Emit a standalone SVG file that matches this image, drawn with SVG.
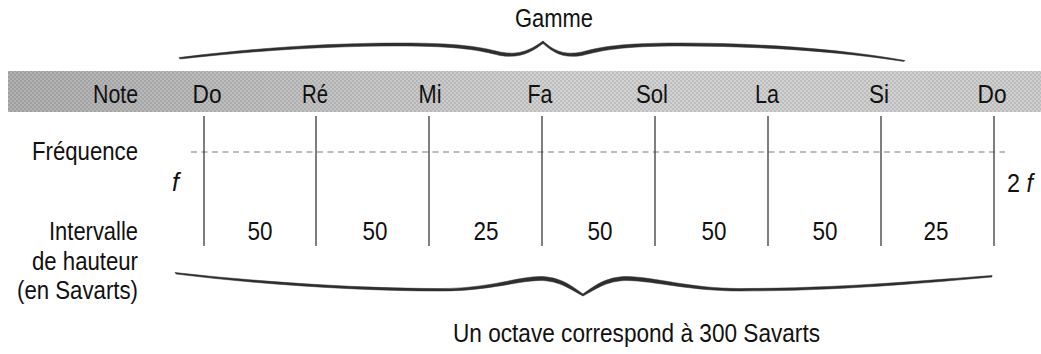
<svg xmlns="http://www.w3.org/2000/svg" width="1041" height="354" viewBox="0 0 1041 354">
  <defs>
    <linearGradient id="bandGrad" x1="0" y1="0" x2="1" y2="0">
      <stop offset="0" stop-color="#b0b0b0"/>
      <stop offset="0.3" stop-color="#c4c4c4"/>
      <stop offset="0.55" stop-color="#d4d4d4"/>
      <stop offset="1" stop-color="#d0d0d0"/>
    </linearGradient>
    <pattern id="stipple" width="4" height="4" patternUnits="userSpaceOnUse">
      <rect x="0" y="0" width="2" height="2" fill="#000" opacity="0.10"/>
      <rect x="2" y="2" width="2" height="2" fill="#000" opacity="0.10"/>
    </pattern>
    <style>
      text { font-family: "Liberation Sans", Arial, sans-serif; font-size: 25px; fill: #111111; }
      .note { text-anchor: middle; }
      .label { text-anchor: end; }
      .num { text-anchor: middle; }
      .it { font-style: italic; }
      .vline { stroke: #3a3a3a; stroke-width: 1.3; fill: none; }
      .dash { stroke: #7a7a7a; stroke-width: 1.2; stroke-dasharray: 6 4.5; fill: none; }
      .brace { fill: #2e2e2e; stroke: #2e2e2e; stroke-width: 0.5; }
    </style>
  </defs>
  <rect width="1041" height="354" fill="#ffffff"/>

  <!-- Title and top brace -->
  <g id="gamme">
    <text x="554" y="27" class="note" textLength="78" lengthAdjust="spacingAndGlyphs">Gamme</text>
    <path class="brace" d="M179,57.5 C260,47.5 330,43 400,43 C460,43 480,47 500,52 C520,56 532,49 543,41 L543,43.5 C533,51 521,59 500,55.5 C480,50.5 460,46 400,46 C330,46 262,50 180,59 Z"/>
    <path class="brace" d="M543,41 C552,49 562,56 582,52 C600,47 620,43 680,43 C760,43 840,49 905,60.5 L904,61.5 C840,51.5 760,46 680,46 C620,46 602,50.5 582,55.5 C561,59 552,51 543,43.5 Z"/>
  </g>

  <!-- Note band -->
  <g id="band">
    <rect x="8" y="71" width="1033" height="41" fill="url(#bandGrad)"/>
    <rect x="8" y="71" width="1033" height="41" fill="url(#stipple)"/>
    <text x="138" y="103" class="label" textLength="45" lengthAdjust="spacingAndGlyphs">Note</text>
  </g>

  <!-- Row labels -->
  <g id="labels">
    <text x="138" y="160" class="label" textLength="106" lengthAdjust="spacingAndGlyphs">Fréquence</text>
    <text x="138" y="240" class="label" textLength="89" lengthAdjust="spacingAndGlyphs">Intervalle</text>
    <text x="138" y="270" class="label" textLength="106" lengthAdjust="spacingAndGlyphs">de hauteur</text>
    <text x="138" y="299" class="label" textLength="121" lengthAdjust="spacingAndGlyphs">(en Savarts)</text>
    <text x="172" y="191" class="it">f</text>
    <text x="1007" y="192" textLength="26" lengthAdjust="spacingAndGlyphs">2 <tspan class="it">f</tspan></text>
  </g>

  <!-- Connectors: vertical note lines and frequency dashed line -->
  <g id="connectors">
    <line class="dash" x1="191" y1="152" x2="1005" y2="152"/>
    <line class="vline" x1="204" y1="116" x2="204" y2="246"/>
    <line class="vline" x1="316" y1="116" x2="316" y2="246"/>
    <line class="vline" x1="429" y1="116" x2="429" y2="246"/>
    <line class="vline" x1="542" y1="116" x2="542" y2="246"/>
    <line class="vline" x1="655" y1="116" x2="655" y2="246"/>
    <line class="vline" x1="768" y1="116" x2="768" y2="246"/>
    <line class="vline" x1="881" y1="116" x2="881" y2="246"/>
    <line class="vline" x1="994" y1="116" x2="994" y2="246"/>
  </g>

  <!-- Notes -->
  <g id="note-do1"><text x="207" y="103" class="note" textLength="29" lengthAdjust="spacingAndGlyphs">Do</text></g>
  <g id="note-re"><text x="315" y="103" class="note" textLength="26" lengthAdjust="spacingAndGlyphs">Ré</text></g>
  <g id="note-mi"><text x="430" y="103" class="note" textLength="23" lengthAdjust="spacingAndGlyphs">Mi</text></g>
  <g id="note-fa"><text x="540" y="103" class="note" textLength="25" lengthAdjust="spacingAndGlyphs">Fa</text></g>
  <g id="note-sol"><text x="652" y="103" class="note" textLength="32" lengthAdjust="spacingAndGlyphs">Sol</text></g>
  <g id="note-la"><text x="767" y="103" class="note" textLength="24" lengthAdjust="spacingAndGlyphs">La</text></g>
  <g id="note-si"><text x="879" y="103" class="note" textLength="20" lengthAdjust="spacingAndGlyphs">Si</text></g>
  <g id="note-do2"><text x="992" y="103" class="note" textLength="29" lengthAdjust="spacingAndGlyphs">Do</text></g>

  <!-- Intervals -->
  <g id="intervals">
    <text x="260" y="240" class="num" textLength="25" lengthAdjust="spacingAndGlyphs">50</text>
    <text x="375" y="240" class="num" textLength="25" lengthAdjust="spacingAndGlyphs">50</text>
    <text x="486" y="240" class="num" textLength="25" lengthAdjust="spacingAndGlyphs">25</text>
    <text x="600" y="240" class="num" textLength="25" lengthAdjust="spacingAndGlyphs">50</text>
    <text x="714" y="240" class="num" textLength="25" lengthAdjust="spacingAndGlyphs">50</text>
    <text x="825" y="240" class="num" textLength="25" lengthAdjust="spacingAndGlyphs">50</text>
    <text x="936" y="240" class="num" textLength="25" lengthAdjust="spacingAndGlyphs">25</text>
  </g>

  <!-- Bottom brace and caption -->
  <g id="octave">
    <path class="brace" d="M175,272.5 C260,282 360,288.5 440,288.5 C490,288.5 515,277 540,276.5 C560,276.5 572,286 583,294 L583,296 C571,290 560,280.5 540,280.5 C515,281 490,291 440,291 C360,291 260,284.5 176,274 Z"/>
    <path class="brace" d="M583,294 C594,286 606,276.5 627,276.5 C655,277 690,288.5 740,288.5 C840,288.5 930,280 992,275.5 L992,277 C930,282.5 840,291 740,291 C690,291 655,281 627,280.5 C606,280.5 595,290 583,296 Z"/>
    <text x="453" y="342" textLength="367" lengthAdjust="spacingAndGlyphs">Un octave correspond à 300 Savarts</text>
  </g>
</svg>
